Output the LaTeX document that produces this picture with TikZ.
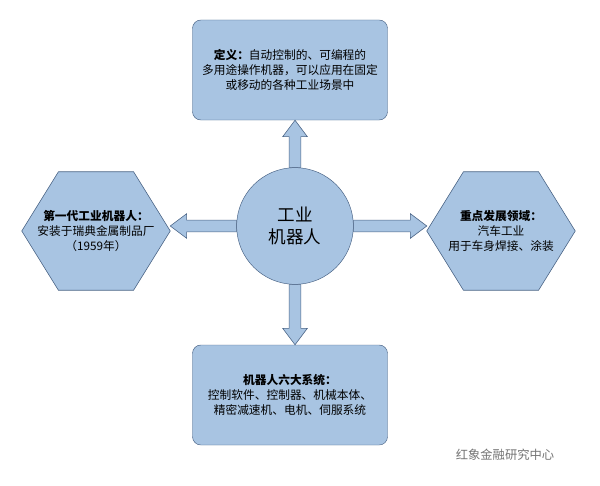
\documentclass[tikz,border=0pt]{standalone}
\usepackage{fontspec}
\setmainfont{Noto Sans CJK SC}
\usetikzlibrary{positioning, calc, shapes.geometric}

\definecolor{boxfill}{RGB}{168,196,226}
\definecolor{boxline}{RGB}{72,98,132}

% block arrow between two named nodes
\newcommand\blockarr[2]{%
  \draw [barr] let \p1=($(#2)-(#1)$), \n1={atan2(\y1,\x1)}, \n2={veclen(\x1,\y1)} in
    [shift={(#1)}, rotate=\n1]
    (0pt,-5pt) -- (\n2-14pt,-5pt) -- (\n2-14pt,-10.5pt) -- (\n2,0pt)
    -- (\n2-14pt,10.5pt) -- (\n2-14pt,5pt) -- (0pt,5pt) -- cycle;}
% flat hexagon around a named node
\newcommand\hexaround[1]{%
  \draw [barr] (#1.west) -- ([xshift=1.1cm]#1.north west) -- ([xshift=-1.1cm]#1.north east)
    -- (#1.east) -- ([xshift=-1.1cm]#1.south east) -- ([xshift=1.1cm]#1.south west) -- cycle;}

\begin{document}
\begin{tikzpicture}
    [x=0.03cm, y=-0.03cm,
     every node/.style={draw=boxline, fill=boxfill, align=center, font=\fontsize{10}{12.5}\selectfont},
     rbox/.style={rounded corners=.25cm, minimum width=5.85cm, minimum height=3cm},
     hexa/.style={draw=none, fill=none, minimum width=4.44cm, minimum height=3.54cm, inner sep=0pt},
     barr/.style={draw=boxline, fill=boxfill, line width=.5pt},
    ]
    \useasboundingbox (0,0) rectangle (600,485);

    \node (robot) [circle, minimum size=3.5cm, font=\fontsize{15}{19}\selectfont] at (295,226) {工业\\机器人};
    \node (define) [rbox] at (290,70) {
        \textbf{定义：}自动控制的、可编程的\\
        多用途操作机器，可以应用在固定\\
        或移动的各种工业场景中
    };
    \node (system) [rbox] at (290,395) {
        \textbf{机器人六大系统：}\\
        控制软件、控制器、机械本体、\\
        精密减速机、电机、伺服系统
    };
    \path (96,231) coordinate (firstc) (501,231) coordinate (fieldc);
    \node (first) [hexa] at (firstc) {};
    \node (field) [hexa] at (fieldc) {};
    \hexaround{first}
    \hexaround{field}
    \node (firsttext) [draw=none, fill=none] at (firstc) {
        \textbf{第一代工业机器人：}\\
        安装于瑞典金属制品厂\\
        （1959年）
    };
    \node (fieldtext) [draw=none, fill=none] at (fieldc) {
        \textbf{重点发展领域：}\\
        汽车工业\\
        用于车身焊接、涂装
    };

    \blockarr{robot.north}{define.south -| robot.north}
    \blockarr{robot.south}{system.north -| robot.south}
    \blockarr{robot.west}{robot.west -| first.east}
    \blockarr{robot.east}{robot.east -| field.west}

    \node (mark) [draw=none, fill=none, text=black!55, font=\fontsize{10.5}{12}\selectfont] at (505,455) {红象金融研究中心};
\end{tikzpicture}
\end{document}
